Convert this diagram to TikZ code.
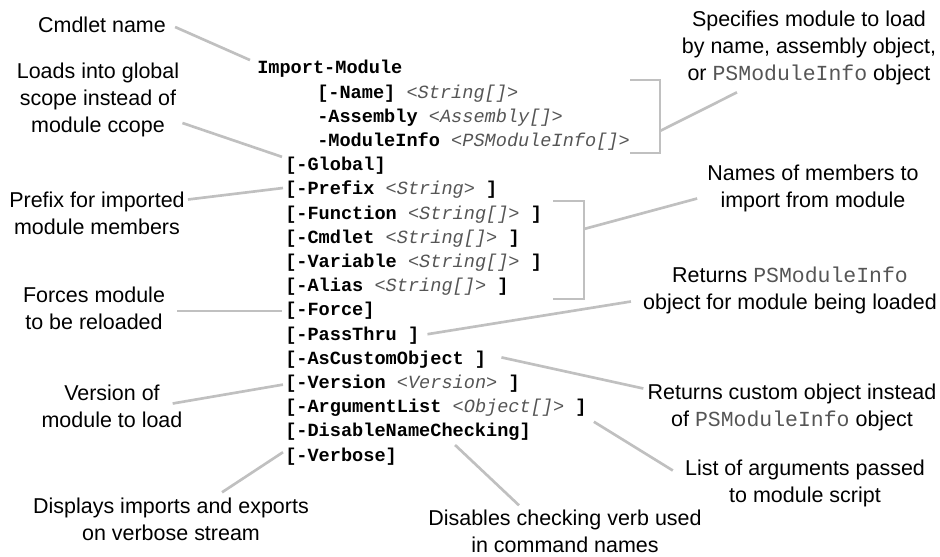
\documentclass[tikz,border=0pt]{standalone}
\usepackage{fontspec}
\setmainfont{Liberation Sans}
\setmonofont{Liberation Mono}
\usepackage{tikz}
\definecolor{leadgray}{RGB}{192,192,192}
\definecolor{typegray}{RGB}{85,85,85}
\newcommand{\lblfont}{\fontsize{16.1}{20.3}\selectfont}
\newcommand{\codefont}{\ttfamily\bfseries\fontsize{13.95}{17}\selectfont}
\newcommand{\ty}[1]{{\mdseries\itshape\color{typegray}#1}}
\newcommand{\tyname}{{\ttfamily\color{typegray}PSModuleInfo}}

\begin{document}
\begin{tikzpicture}[x=0.75pt,y=-0.75pt,
  lbl/.style={font=\lblfont, align=center, inner sep=0pt},
  code/.style={font=\codefont, anchor=west, inner sep=0pt},
  lead/.style={draw=leadgray, line width=2pt}]
  \useasboundingbox (0,0) rectangle (940,557);
  % syntax of the cmdlet
  \node[code] (imp)      at (257,69)    {Import-Module};
  \node[code] (pname)    at (317,93.2)  {[-Name] \ty{<String[]>}};
  \node[code] (passm)    at (317,117.4) {-Assembly \ty{<Assembly[]>}};
  \node[code] (pinfo)    at (317,141.6) {-ModuleInfo \ty{<PSModuleInfo[]>}};
  \node[code] (pglobal)  at (285,165.8) {[-Global]};
  \node[code] (pprefix)  at (285,190)   {[-Prefix \ty{<String>} ]};
  \node[code] (pfunc)    at (285,214.2) {[-Function \ty{<String[]>} ]};
  \node[code] (pcmdlet)  at (285,238.4) {[-Cmdlet \ty{<String[]>} ]};
  \node[code] (pvar)     at (285,262.6) {[-Variable \ty{<String[]>} ]};
  \node[code] (palias)   at (285,286.8) {[-Alias \ty{<String[]>} ]};
  \node[code] (pforce)   at (285,311)   {[-Force]};
  \node[code] (ppass)    at (285,335.2) {[-PassThru ]};
  \node[code] (pcustom)  at (285,359.4) {[-AsCustomObject ]};
  \node[code] (pversion) at (285,383.6) {[-Version \ty{<Version>} ]};
  \node[code] (pargs)    at (285,407.8) {[-ArgumentList \ty{<Object[]>} ]};
  \node[code] (pdisable) at (285,432)   {[-DisableNameChecking]};
  \node[code] (pverbose) at (285,456.2) {[-Verbose]};

  % brackets
  \draw[lead] (630,80) -| (660,153) -- (630,153);
  \coordinate (br1) at (660,131);
  \draw[lead] (553,201) -| (584,299) -- (553,299);
  \coordinate (br2) at (584,229);

  % left labels
  \node[lbl] (cmd)   at (102,25)    {Cmdlet name};
  \node[lbl] (glob)  at (98,100)    {Loads into global\\scope instead of\\module ccope};
  \node[lbl] (pref)  at (97,213.5)  {Prefix for imported\\module members};
  \node[lbl] (force) at (94,308.5)  {Forces module\\to be reloaded};
  \node[lbl] (vers)  at (112,406.5) {Version of\\module to load};
  \node[lbl] (verb)  at (171,519)   {Displays imports and exports\\on verbose stream};
  \node[lbl] (disab) at (565,531)   {Disables checking verb used\\in command names};
  % right labels
  \node[lbl] (spec)  at (809,48)    {Specifies module to load\\by name, assembly object,\\or \tyname{} object};
  \node[lbl] (names) at (813,188.5) {Names of members to\\import from module};
  \node[lbl] (rpass) at (790,290.5) {Returns \tyname\\object for module being loaded};
  \node[lbl] (rcust) at (792,407.5) {Returns custom object instead\\of \tyname{} object};
  \node[lbl] (rargs) at (805,483.5) {List of arguments passed\\to module script};

  % leaders
  \draw[lead] ([shift={(9,2)}]cmd.east) -- ([shift={(-7,0)}]imp.north west);
  \draw[lead] ([shift={(3,23)}]glob.east) -- ([shift={(-3,0)}]pglobal.north west);
  \draw[lead] ([shift={(3,-14)}]pref.east) -- ([shift={(-2,-2)}]pprefix.west);
  \draw[lead] ([shift={(12,2.5)}]force.east) -- ([shift={(-3,0)}]pforce.west);
  \draw[lead] ([shift={(-10,-3)}]vers.east) -- ([shift={(-2,1)}]pversion.west);
  \draw[lead] ([shift={(51,-5)}]verb.north) -- ([shift={(-2,-4)}]pverbose.west);
  \draw[lead] ([shift={(47,4)}]pdisable.south) -- ([shift={(-46,-4)}]disab.north);
  \draw[lead] (br1) -- ([shift={(-72,7)}]spec.south);
  \draw[lead] (br2) -- ([shift={(-10,10)}]names.west);
  \draw[lead] ([shift={(8,-1)}]ppass.east) -- ([shift={(-12,11)}]rpass.west);
  \draw[lead] ([shift={(15,-2)}]pcustom.east) -- ([shift={(-4,-19)}]rcust.west);
  \draw[lead] ([shift={(7,5)}]pargs.south east) -- ([shift={(-12,-13)}]rargs.west);
\end{tikzpicture}
\end{document}
